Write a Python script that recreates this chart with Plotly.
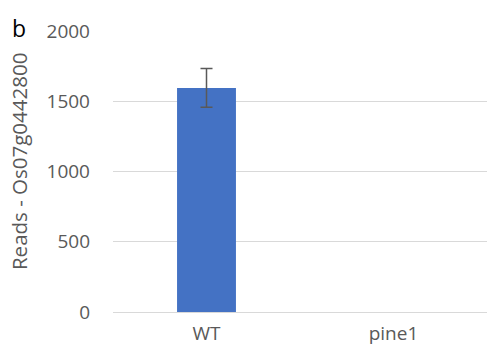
import plotly.graph_objects as go

categories = ["WT", "pine1"]
reads = [1595, 0]
err_categories = ["WT"]
err_values = [1595]
errors = [138]
y_ticks = [0, 500, 1000, 1500, 2000]

W, H = 487, 354
L, R, T, B = 113, 0, 30.5, 41.5
plot_w = W - L - R
plot_h = H - T - B

fig = go.Figure()
fig.add_trace(go.Bar(
    x=categories, y=reads,
    marker=dict(color="#4472C4", line=dict(width=0)),
    width=0.315,
))
fig.add_trace(go.Scatter(
    x=err_categories, y=err_values, mode="markers",
    marker=dict(size=0.1, opacity=0),
    error_y=dict(type="data", array=errors, visible=True, color="#595959", thickness=1.5, width=6),
    hoverinfo="skip",
))

font_fam = "Open Sans, Liberation Sans, sans-serif"
fig.update_layout(
    width=W, height=H,
    margin=dict(l=L, r=R, t=T, b=B, autoexpand=False),
    paper_bgcolor="white", plot_bgcolor="white",
    showlegend=False,
    font=dict(family=font_fam, color="#595959", size=19),
    xaxis=dict(showgrid=False, showline=False, zeroline=False, ticks="",
               tickfont=dict(size=19, color="#595959"), ticklabelstandoff=8),
    yaxis=dict(range=[0, 2000], tickvals=y_ticks, showgrid=True, gridcolor="#D9D9D9",
               gridwidth=1, zeroline=True, zerolinecolor="#D9D9D9", zerolinewidth=1,
               showline=False, ticks="", tickfont=dict(size=19, color="#595959"),
               ticklabelstandoff=22),
    annotations=[
        dict(text="Reads - Os07g0442800", textangle=-90, x=(19 - L) / plot_w,
             y=(H - 162 - B) / plot_h, borderpad=0,
             xref="paper", yref="paper", xanchor="center", yanchor="middle",
             showarrow=False, font=dict(size=20.5, color="#595959", family=font_fam)),
        dict(text="b", x=(10 - L) / plot_w, y=(H - 27 - B) / plot_h, xref="paper", yref="paper",
             xanchor="left", yanchor="middle", showarrow=False,
             font=dict(size=23, color="black", family=font_fam)),
    ],
)

fig.write_html("out.html", config={"displayModeBar": False},
               post_script="document.body.style.margin='0';")
